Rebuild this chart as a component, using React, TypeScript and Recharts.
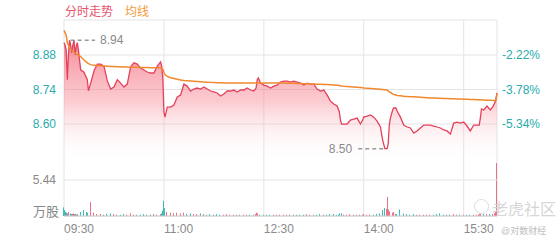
import React from "react";
import {
  ComposedChart,
  Area,
  Line,
  Bar,
  XAxis,
  YAxis,
  CartesianGrid,
  ReferenceLine,
} from "recharts";

// minutes since 09:30
const minutes = [
  0, 1, 2, 3, 4, 5, 6, 7, 8, 9, 10, 11, 12, 13, 15, 18, 21, 22, 24, 27, 30, 33, 36, 39, 42, 45, 48, 51, 54, 57,
  60, 63, 66, 69, 72, 75, 78, 81, 84, 87, 88, 89, 90, 91, 93, 96, 99, 102, 105, 108, 111, 114, 117, 120, 123,
  126, 129, 132, 135, 138, 141, 144, 147, 150, 153, 156, 159, 162, 165, 168, 171, 173, 174, 175, 177, 180, 183,
  186, 189, 192, 195, 198, 201, 204, 207, 210, 213, 216, 219, 222, 225, 228, 231, 234, 237, 240, 243, 246, 248,
  249, 250, 252, 255, 258, 261, 264, 267, 269, 270, 273, 276, 279, 282, 285, 287, 289, 291, 292, 293, 294, 296,
  297, 299, 300, 303, 306, 309, 312, 315, 318, 321, 324, 327, 330, 333, 336, 339, 342, 345, 348, 351, 354, 357,
  360, 363, 366, 369, 372, 374, 375, 376, 378, 381, 384, 386, 388, 389, 390,
];

const prices = [
  8.93, 8.92, 8.9, 8.78, 8.88, 8.94, 8.92, 8.89, 8.92, 8.94, 8.88, 8.915, 8.93, 8.9, 8.82, 8.81, 8.78, 8.735,
  8.765, 8.815, 8.843, 8.843, 8.835, 8.775, 8.742, 8.75, 8.78, 8.766, 8.75, 8.762,
  8.831, 8.848, 8.843, 8.827, 8.819, 8.811, 8.807, 8.807, 8.835, 8.852, 8.835, 8.787, 8.649, 8.628, 8.669, 8.669,
  8.677, 8.71, 8.718, 8.762, 8.754, 8.734, 8.742, 8.746, 8.742,
  8.75, 8.742, 8.734, 8.73, 8.726, 8.714, 8.722, 8.734, 8.734, 8.738, 8.73, 8.738, 8.738, 8.746, 8.738, 8.734,
  8.746, 8.779, 8.787, 8.766, 8.758, 8.754,
  8.746, 8.754, 8.758, 8.77, 8.774, 8.774, 8.77, 8.774, 8.77, 8.766, 8.758, 8.766, 8.762, 8.762, 8.742, 8.734,
  8.738, 8.718, 8.693, 8.681, 8.673, 8.649,
  8.616, 8.6, 8.6, 8.6, 8.616, 8.62, 8.624, 8.6, 8.616, 8.628, 8.632, 8.637, 8.628, 8.612, 8.588, 8.535, 8.5,
  8.5, 8.519, 8.596, 8.624, 8.657,
  8.665, 8.665, 8.653, 8.628, 8.596, 8.588, 8.584, 8.563, 8.572, 8.584, 8.596, 8.596, 8.596, 8.592, 8.588, 8.584,
  8.576, 8.572, 8.559, 8.604, 8.608, 8.604,
  8.608, 8.592, 8.572, 8.596, 8.596, 8.596, 8.624, 8.661, 8.657, 8.673, 8.657, 8.669, 8.685, 8.701, 8.726,
];

const avgPrices = [
  8.98, 8.97, 8.96, 8.93, 8.92, 8.91, 8.905, 8.9, 8.896, 8.892, 8.888, 8.885, 8.882, 8.879, 8.874, 8.86, 8.848,
  8.845, 8.841, 8.838, 8.836, 8.836, 8.835, 8.834, 8.833, 8.833, 8.832, 8.832, 8.831, 8.831,
  8.83, 8.83, 8.83, 8.829, 8.829, 8.829, 8.828, 8.828, 8.828, 8.828, 8.827, 8.822, 8.81, 8.8, 8.793, 8.788,
  8.785, 8.782, 8.779, 8.777, 8.776, 8.775, 8.774, 8.773, 8.772,
  8.771, 8.77, 8.769, 8.768, 8.767, 8.767, 8.766, 8.766, 8.766, 8.766, 8.766, 8.766, 8.766, 8.766, 8.766, 8.766,
  8.766, 8.766, 8.766, 8.766, 8.766, 8.766,
  8.766, 8.766, 8.766, 8.766, 8.766, 8.765, 8.765, 8.765, 8.764, 8.764, 8.763, 8.763, 8.762, 8.762, 8.761, 8.761,
  8.76, 8.76, 8.759, 8.758, 8.757, 8.756,
  8.755, 8.754, 8.753, 8.752, 8.751, 8.75, 8.749, 8.748, 8.747, 8.746, 8.745, 8.744, 8.743, 8.742, 8.741, 8.74,
  8.739, 8.738, 8.735, 8.73, 8.728, 8.722,
  8.72, 8.718, 8.716, 8.715, 8.713, 8.712, 8.711, 8.711, 8.71, 8.709, 8.708, 8.707, 8.706, 8.706, 8.705, 8.705,
  8.704, 8.704, 8.703, 8.703, 8.702, 8.702,
  8.701, 8.701, 8.7, 8.7, 8.699, 8.699, 8.699, 8.698, 8.698, 8.697, 8.697, 8.696, 8.695, 8.696, 8.722,
];

// 万股
const volumes = [
  1.3, 0.9, 0.6, 0.5, 0.4, 0.6, 0.4, 0.3, 0.3, 0.4, 0.3, 0.3, 0.2, 0.3, 0.6, 0.9, 0.6, 0.5, 2.1, 0.5, 0.3, 0.3,
  0.2, 0.3, 0.4, 0.3, 0.2, 0.2, 0.3, 0.2,
  0.4, 0.2, 0.2, 0.2, 0.3, 0.2, 0.2, 0.3, 0.2, 0.3, 0.4, 0.8, 2.3, 1.2, 0.6, 0.5, 0.4, 0.5, 0.4, 0.5, 0.3, 0.4,
  0.3, 0.3, 0.4,
  0.3, 0.2, 0.3, 0.2, 0.3, 0.2, 0.2, 0.3, 0.2, 0.2, 0.2, 0.2, 0.2, 0.2, 0.2, 0.2, 0.3, 0.5, 0.4, 0.2, 0.2, 0.2,
  0.2, 0.2, 0.2, 0.2, 0.2, 0.2, 0.2, 0.2, 0.2, 0.2, 0.2, 0.3, 0.2, 0.2, 0.2, 0.3, 0.2, 0.2, 0.3, 0.3, 0.2, 0.2,
  0.4, 0.4, 0.2, 0.2, 0.3, 0.2, 0.2, 0.2, 0.2, 0.3, 0.2, 0.2, 0.2, 0.3, 0.4, 0.9, 1.2, 1.1, 2.9, 1.0, 0.7, 0.5,
  0.6, 0.3, 0.3, 1.0, 0.4, 0.3, 0.2, 0.3, 0.2, 0.2, 0.2, 0.2, 0.2, 0.2, 0.3, 0.4, 0.2, 0.2, 0.2, 0.3, 0.2, 0.2,
  0.2, 0.2, 0.2, 0.2, 0.2, 0.2, 0.3, 0.4, 0.3, 0.3, 0.3, 0.3, 0.4, 0.6, 8.0,
];

const timeTicks = [0, 90, 180, 270, 360, 390];
const timeLabels = ["09:30", "11:00", "12:30", "14:00", "15:30", ""];
const priceTicks = [8.6, 8.74, 8.88];
const pctLabels = ["-5.34%", "-3.78%", "-2.22%"];
const prevClose = 9.082;
const volTick = 5.44;

const priceDomain = [8.227, 9.022];
const volDomain = [0, 29.6];

const RED = "#e5405a";
const ORANGE = "#f0892e";
const TEAL = "#2aabab";
const UP = "#ef6f86";
const DOWN = "#3bbdb9";
const FONT = '"Liberation Sans", "Noto Sans CJK SC", sans-serif';

const rows = minutes.map((t, i) => ({
  t,
  price: prices[i],
  avg: avgPrices[i],
  vol: volumes[i],
  up: prices[i] >= (i > 0 ? prices[i - 1] : prevClose),
}));

const hi = Math.max(...prices);
const hiT = minutes[prices.indexOf(hi)];
const lo = Math.min(...prices);
const loT = minutes[prices.indexOf(lo)];

const TimeTick = (props: any) => {
  const { x, y, payload } = props;
  const label = timeLabels[timeTicks.indexOf(payload.value)];
  if (!label) return <g />;
  return (
    <text x={x} y={y} dy={9} textAnchor="start" fill="#8a8a8a" fontSize={12}>
      {label}
    </text>
  );
};

// thin 1px volume stick, kept inside the plot edge
const VolStick = (props: any) => {
  const { x, y, width, height, payload } = props;
  if (!height || height <= 0) return <g />;
  const cx = Math.min(Math.round(x + width / 2), 497);
  return <rect x={cx - 1} y={y} width={1} height={height} fill={payload.up ? UP : DOWN} />;
};

export default function App() {
  return (
    <div style={{ position: "absolute", left: 0, top: 0, width: 560, height: 240, background: "#fff", fontFamily: FONT }}>
      <div style={{ position: "absolute", left: 65, top: 2, fontSize: 12, color: "#e8536b" }}>分时走势</div>
      <div style={{ position: "absolute", left: 125, top: 2, fontSize: 12, color: "#f29a38" }}>均线</div>

      <ComposedChart
        width={560}
        height={240}
        data={rows}
        margin={{ top: 20, right: 0, bottom: 0, left: 0 }}
        style={{ fontFamily: FONT }}
      >
        <defs>
          <linearGradient id="priceFill" x1="0" y1="0" x2="0" y2="1">
            <stop offset="0%" stopColor="#f25c6e" stopOpacity={0.7} />
            <stop offset="35%" stopColor="#f67e8c" stopOpacity={0.4} />
            <stop offset="70%" stopColor="#ffffff" stopOpacity={0} />
          </linearGradient>
        </defs>
        <CartesianGrid yAxisId="price" stroke="#e4e4e4" />
        <XAxis
          dataKey="t"
          type="number"
          domain={[0, 390]}
          ticks={timeTicks}
          interval={0}
          tick={<TimeTick />}
          tickLine={false}
          axisLine={{ stroke: "#cfcfcf" }}
          height={24}
        />
        <YAxis
          yAxisId="price"
          domain={priceDomain}
          ticks={priceTicks}
          allowDataOverflow
          width={64}
          tickLine={false}
          axisLine={false}
          tick={{ fill: TEAL, fontSize: 12 }}
          tickFormatter={(v: number) => v.toFixed(2)}
        />
        <YAxis
          yAxisId="pct"
          orientation="right"
          domain={priceDomain}
          ticks={priceTicks}
          allowDataOverflow
          width={63}
          tickLine={false}
          axisLine={false}
          tickSize={3}
          tickMargin={2}
          tick={{ fill: TEAL, fontSize: 12 }}
          tickFormatter={(v: number) => pctLabels[priceTicks.indexOf(v)]}
        />
        <YAxis yAxisId="vol" hide domain={volDomain} />
        <ReferenceLine
          yAxisId="vol"
          y={volTick}
          stroke="#e4e4e4"
          label={{ value: volTick.toFixed(2), position: "left", offset: 8, fill: "#888", fontSize: 12 }}
        />
        <Bar yAxisId="vol" dataKey="vol" barSize={1} shape={<VolStick />} isAnimationActive={false} />
        <Area
          yAxisId="price"
          type="linear"
          dataKey="price"
          stroke={RED}
          strokeWidth={1.3}
          fill="url(#priceFill)"
          fillOpacity={1}
          dot={false}
          activeDot={false}
          isAnimationActive={false}
        />
        <Line
          yAxisId="pct"
          type="linear"
          dataKey="avg"
          stroke={ORANGE}
          strokeWidth={1.5}
          dot={false}
          activeDot={false}
          isAnimationActive={false}
        />
        <ReferenceLine
          yAxisId="price"
          segment={[
            { x: hiT + 1, y: hi },
            { x: hiT + 23, y: hi },
          ]}
          stroke="#9a9a9a"
          strokeWidth={1.5}
          strokeDasharray="4 3"
          label={{ value: hi.toFixed(2), position: "right", offset: 5, fill: "#8a8a8a", fontSize: 12 }}
        />
        <ReferenceLine
          yAxisId="price"
          segment={[
            { x: loT - 24, y: lo },
            { x: loT, y: lo },
          ]}
          stroke="#9a9a9a"
          strokeWidth={1.5}
          strokeDasharray="4 3"
          label={{ value: lo.toFixed(2), position: "left", offset: 6, fill: "#8a8a8a", fontSize: 12 }}
        />
      </ComposedChart>

      <div style={{ position: "absolute", left: 33, top: 201, fontSize: 13, color: "#888" }}>万股</div>
      <div
        style={{
          position: "absolute",
          left: 474,
          top: 199,
          width: 13,
          height: 13,
          borderRadius: "50%",
          border: "1.5px solid #dcdcdc",
        }}
      />
      <div style={{ position: "absolute", left: 492, top: 196, fontSize: 16, color: "#d6d6d6" }}>老虎社区</div>
      <div style={{ position: "absolute", left: 501, top: 224, fontSize: 9, color: "#bdbdbd" }}>@对数财经</div>
    </div>
  );
}
